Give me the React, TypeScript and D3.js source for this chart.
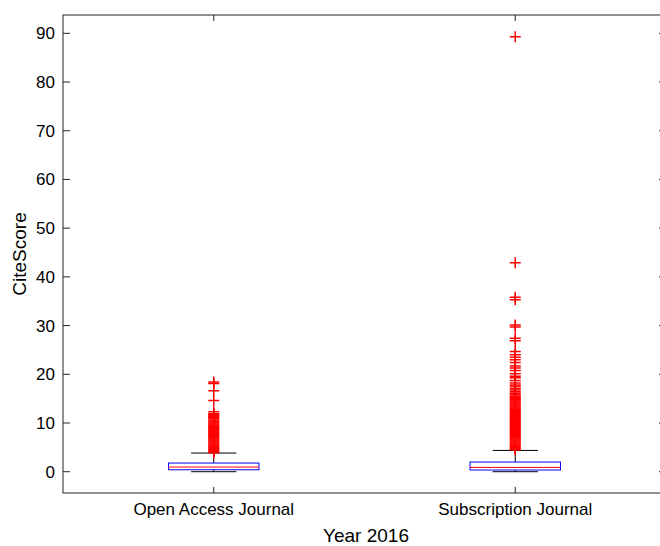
import React from "react";
import * as d3 from "d3";

// Box statistics per journal type (CiteScore, 2016)
const categories = ["Open Access Journal", "Subscription Journal"];
const q1 = [0.4, 0.35];
const medians = [0.96, 0.88];
const q3 = [1.78, 1.99];
const whiskerLow = [0, 0];
const whiskerHigh = [3.83, 4.37];

const outliersOpen = [
  18.4, 18.1, 16.6, 14.6, 12.3, 11.9, 11.8, 11.6, 11.4, 11.3, 11.1, 10.9, 10.6,
  10.4, 10.2, 10.0, 9.8, 9.6, 9.4, 9.3, 9.1, 8.9, 8.7, 8.5, 8.3, 8.1, 7.9, 7.7,
  7.5, 7.3, 7.1, 6.9, 6.7, 6.5, 6.3, 6.1, 5.9, 5.7, 5.5, 5.3, 5.1, 4.9, 4.7,
  4.5, 4.3, 4.1, 3.9,
];
const outliersSubscription = [
  89.3, 42.9, 35.8, 35.3, 30.1, 29.7, 27.4, 26.9, 24.7, 24.0, 23.5, 23.0, 22.4,
  21.7, 21.3, 20.8, 20.1, 19.6, 19.3, 18.7, 18.2, 17.8, 17.5, 17.1, 16.8, 16.4,
  16.1, 15.8, 15.5, 15.3, 15.1, 14.9, 14.7, 14.5, 14.3, 14.1, 13.9, 13.7, 13.5,
  13.3, 13.1, 12.9, 12.7, 12.5, 12.3, 12.1, 11.9, 11.7, 11.5, 11.3, 11.1, 10.9,
  10.7, 10.5, 10.3, 10.1, 9.9, 9.7, 9.5, 9.3, 9.1, 8.9, 8.7, 8.5, 8.3, 8.1, 7.9,
  7.7, 7.5, 7.3, 7.1, 6.9, 6.7, 6.5, 6.3, 6.1, 5.9, 5.7, 5.5, 5.3, 5.1, 4.9, 4.7,
  4.5,
];
const outliers = [outliersOpen, outliersSubscription];

const yTicks = [0, 10, 20, 30, 40, 50, 60, 70, 80, 90];
const yDomain = [-4.37, 93.76];

const W = 660;
const H = 546;
const left = 63;
const right = 666;
const top = 15;
const bottom = 493;
const FONT = "'Liberation Sans', Arial, Helvetica, sans-serif";
const AXIS = "#222";

export default function App() {
  const x = d3.scaleLinear().domain([0.5, 2.5]).range([left, right]);
  const y = d3.scaleLinear().domain(yDomain).range([bottom, top]);
  const boxHalf = 0.15;
  const capHalf = 0.075;
  const cross = "M-5.5,0H5.5M0,-5.5V5.5";

  return (
    <svg
      width={W}
      height={H}
      style={{ position: "absolute", left: 0, top: 0, background: "#fff" }}
      fontFamily={FONT}
    >
      <rect width={W} height={H} fill="#fff" />

      {/* boxes */}
      {categories.map((c, i) => {
        const cx = x(i + 1);
        return (
          <g key={c}>
            <line x1={cx} x2={cx} y1={y(q3[i])} y2={y(whiskerHigh[i])} stroke="#000" />
            <line x1={cx} x2={cx} y1={y(q1[i])} y2={y(whiskerLow[i])} stroke="#000" />
            <line
              x1={x(i + 1 - capHalf)}
              x2={x(i + 1 + capHalf)}
              y1={y(whiskerHigh[i])}
              y2={y(whiskerHigh[i])}
              stroke="#000"
            />
            <line
              x1={x(i + 1 - capHalf)}
              x2={x(i + 1 + capHalf)}
              y1={y(whiskerLow[i])}
              y2={y(whiskerLow[i])}
              stroke="#000"
            />
            <rect
              x={x(i + 1 - boxHalf)}
              y={y(q3[i])}
              width={x(i + 1 + boxHalf) - x(i + 1 - boxHalf)}
              height={y(q1[i]) - y(q3[i])}
              fill="none"
              stroke="#0000ff"
            />
            <line
              x1={x(i + 1 - boxHalf)}
              x2={x(i + 1 + boxHalf)}
              y1={y(medians[i])}
              y2={y(medians[i])}
              stroke="#ff0000"
            />
            {outliers[i].map((v, j) => (
              <path
                key={j}
                d={cross}
                transform={`translate(${cx},${y(v)})`}
                stroke="#ff0000"
                strokeWidth={1.5}
                fill="none"
              />
            ))}
          </g>
        );
      })}

      {/* frame */}
      <rect
        x={left}
        y={top}
        width={right - left}
        height={bottom - top}
        fill="none"
        stroke={AXIS}
      />

      {/* y ticks, both sides */}
      {yTicks.map((t) => (
        <g key={t}>
          <line x1={left} x2={left + 7} y1={y(t)} y2={y(t)} stroke={AXIS} />
          <line x1={right} x2={right - 7} y1={y(t)} y2={y(t)} stroke={AXIS} />
          <text
            x={left - 8}
            y={y(t)}
            dy="0.35em"
            textAnchor="end"
            fontSize={17}
            fill="#000"
          >
            {t}
          </text>
        </g>
      ))}

      {/* x ticks, both sides */}
      {categories.map((c, i) => (
        <g key={c}>
          <line x1={x(i + 1)} x2={x(i + 1)} y1={bottom} y2={bottom - 6} stroke={AXIS} />
          <line x1={x(i + 1)} x2={x(i + 1)} y1={top} y2={top + 6} stroke={AXIS} />
          <text x={x(i + 1)} y={515} textAnchor="middle" fontSize={17} fill="#000">
            {c}
          </text>
        </g>
      ))}

      <text x={366} y={542} textAnchor="middle" fontSize={19} fill="#000">
        Year 2016
      </text>
      <text
        transform={`translate(26,${(top + bottom) / 2}) rotate(-90)`}
        textAnchor="middle"
        fontSize={19}
        fill="#000"
      >
        CiteScore
      </text>
    </svg>
  );
}
